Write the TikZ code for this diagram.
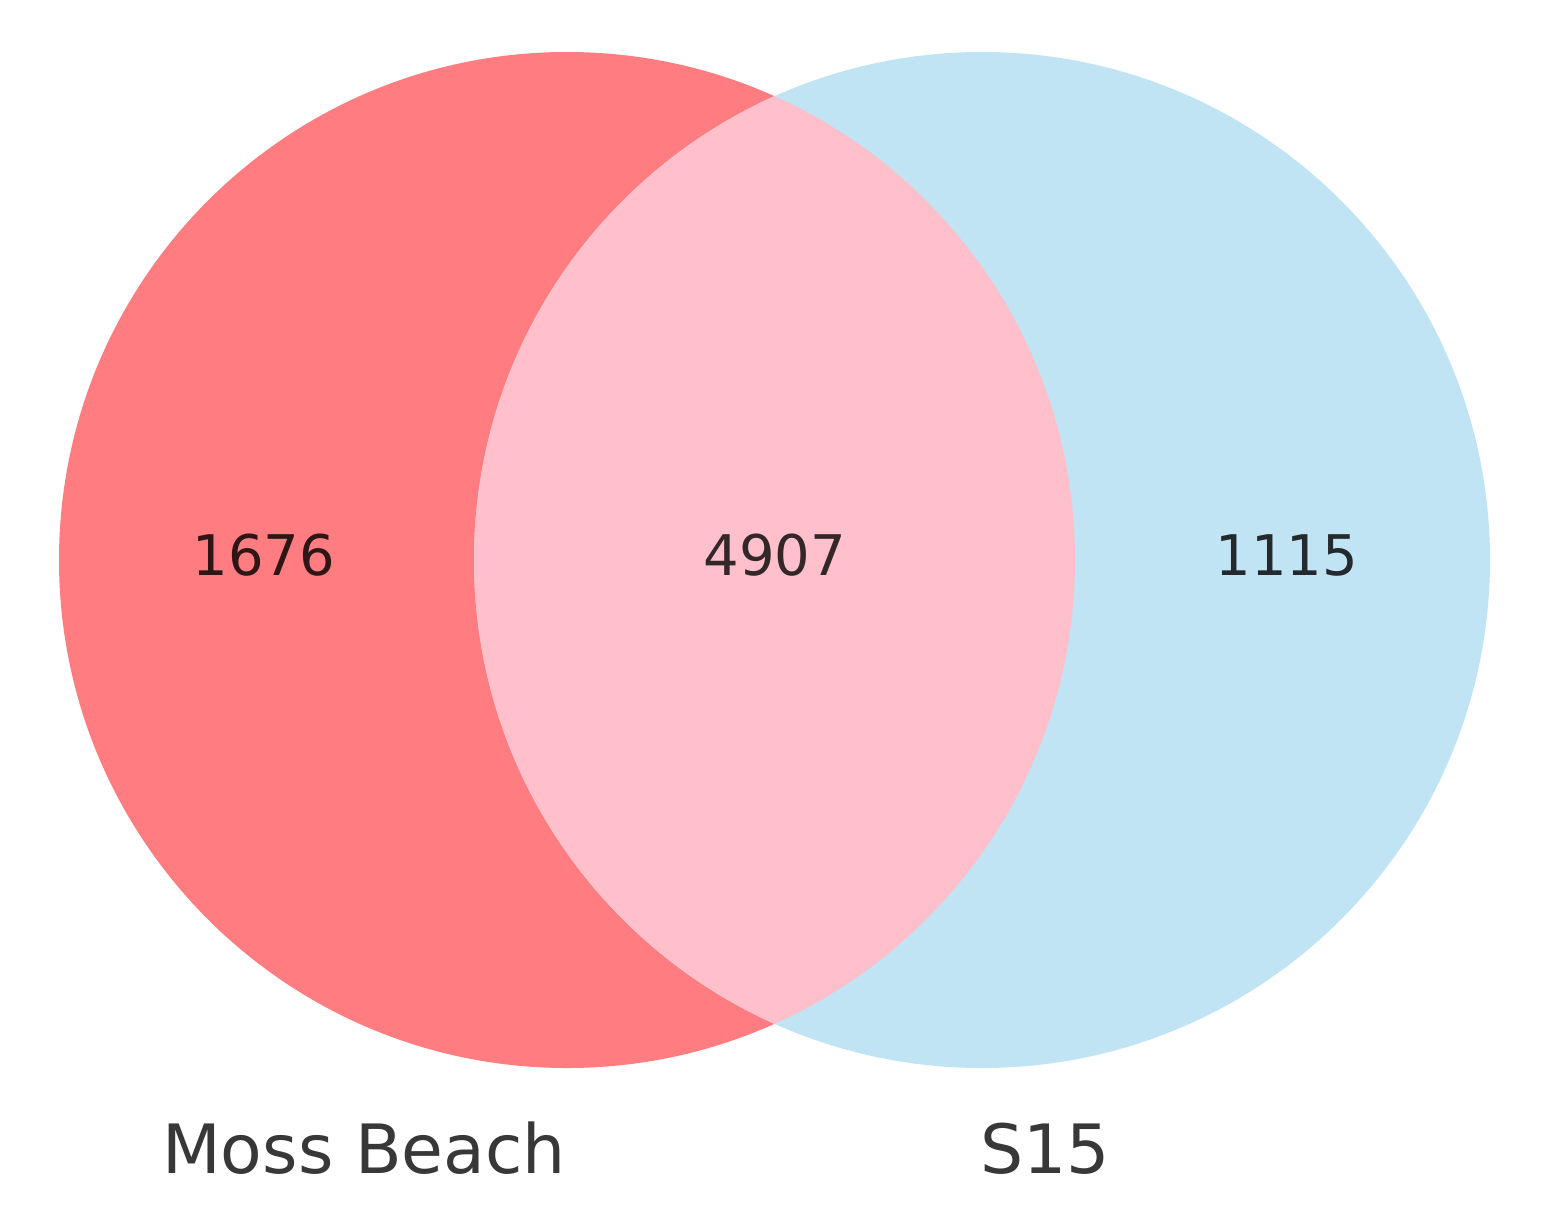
\documentclass[tikz,border=0pt]{standalone}
\usepackage{fontspec}
\setmainfont{DejaVu Sans}
\definecolor{setA}{RGB}{255,125,128}
\definecolor{setB}{RGB}{192,228,243}
\definecolor{setAB}{RGB}{255,192,203}
\tikzset{
  count/.style={font=\fontsize{28}{30}\selectfont, anchor=base, inner sep=0pt},
  setlabel/.style={font=\fontsize{34}{36}\selectfont, anchor=base, inner sep=0pt, text=black!78},
}
\begin{document}
\begin{tikzpicture}[x=0.5pt,y=-0.5pt]
\useasboundingbox[fill=white] (0,0) rectangle (1551,1231);
\coordinate (cA) at (567,560);
\coordinate (cB) at (982,560);
\fill[setA] (cA) circle[radius=254pt];
\fill[setB] (cB) circle[radius=254pt];
\begin{scope}
  \clip (cA) circle[radius=254pt];
  \fill[setAB] (cB) circle[radius=254pt];
\end{scope}
\node[count, text=black!82!setA] (nA) at (264,575) {1676};
\node[count, text=black!80!setAB] (nAB) at (775,575) {4907};
\node[count, text=black!82!setB] (nB) at (1287,575) {1115};
\node[setlabel] (lA) at (364,1173) {Moss Beach};
\node[setlabel] (lB) at (1045,1173) {S15};
\end{tikzpicture}
\end{document}
